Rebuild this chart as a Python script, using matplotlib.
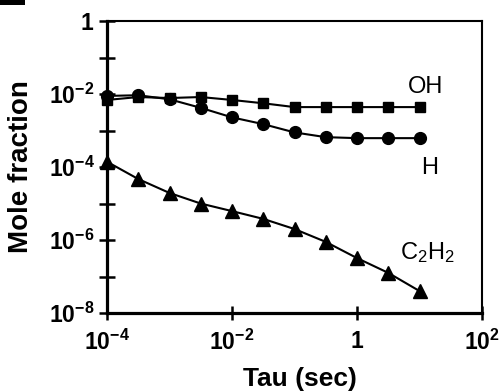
import matplotlib
matplotlib.use("Agg")
import matplotlib.pyplot as plt
from matplotlib.patches import Rectangle
from matplotlib.ticker import NullFormatter, NullLocator

plt.rcParams['font.family'] = ['Liberation Sans', 'DejaVu Sans']
plt.rcParams['mathtext.fontset'] = 'custom'
plt.rcParams['mathtext.rm'] = 'Liberation Sans:bold'
plt.rcParams['mathtext.it'] = 'Liberation Sans:bold'
plt.rcParams['mathtext.bf'] = 'Liberation Sans:bold'
plt.rcParams['mathtext.sf'] = 'Liberation Sans'

# residence time (s), half-decade steps
tau = [1e-4, 3.16e-4, 1e-3, 3.16e-3, 1e-2, 3.16e-2, 0.1, 0.316, 1, 3.16, 10]

oh = [6.9e-3, 8.3e-3, 7.8e-3, 8.3e-3, 6.9e-3, 5.6e-3, 4.4e-3, 4.4e-3, 4.4e-3, 4.4e-3, 4.4e-3]
h = [8.9e-3, 9.3e-3, 7.2e-3, 4.2e-3, 2.3e-3, 1.5e-3, 8.9e-4, 6.6e-4, 6.2e-4, 6.2e-4, 6.2e-4]
c2h2 = [1.4e-4, 4.7e-5, 1.95e-5, 1.0e-5, 6.2e-6, 3.8e-6, 2.0e-6, 8.9e-7, 3.2e-7, 1.26e-7, 4.0e-8]

xticks = [1e-4, 1e-2, 1, 1e2]
xticklabels = [r'$10^{-4}$', r'$10^{-2}$', r'$1$', r'$10^{2}$']
yticks = [1e-8, 1e-6, 1e-4, 1e-2, 1]
yticklabels = [r'$10^{-8}$', r'$10^{-6}$', r'$10^{-4}$', r'$10^{-2}$', r'$1$']
yminor = [1e-7, 1e-5, 1e-3, 1e-1]

fig = plt.figure(figsize=(5, 3.91), dpi=100)
ax = fig.add_axes([0.214, 0.1995, 0.75, 0.7465])

ax.plot(tau, oh, '-s', color='black', lw=1.5, ms=7, clip_on=False)
ax.plot(tau, h, '-o', color='black', lw=1.5, ms=8.5, clip_on=False)
ax.plot(tau, c2h2, '-^', color='black', lw=1.5, ms=9.5, clip_on=False)

ax.set_xscale('log')
ax.set_yscale('log')
ax.set_xlim(1e-4, 1e2)
ax.set_ylim(1e-8, 1)

ax.set_xticks(xticks)
ax.set_xticklabels(xticklabels, fontsize=16.5)
ax.set_yticks(yticks)
ax.set_yticklabels(yticklabels, fontsize=16.5)
ax.set_yticks(yminor, minor=True)
ax.yaxis.set_minor_formatter(NullFormatter())
ax.xaxis.set_minor_locator(NullLocator())
ax.tick_params(axis='y', which='both', direction='inout', length=12, width=1.8, pad=3)
ax.tick_params(axis='x', which='major', direction='inout', length=10, width=1.8, pad=7)

for side in ['left', 'bottom']:
    ax.spines[side].set_linewidth(2.3)
for side in ['top', 'right']:
    ax.spines[side].set_linewidth(1.5)

ax.set_xlabel('Tau (sec)', fontsize=19, fontweight='bold')
ax.set_ylabel('Mole fraction', fontsize=20, fontweight='bold')
ax.xaxis.set_label_coords(0.515, -0.185)
ax.yaxis.set_label_coords(-0.195, 0.5)

ax.text(6.5, 10**-1.81, 'OH', fontsize=17, ha='left', va='center')
ax.text(14.7, 10**-4.03, 'H', fontsize=17, ha='center', va='center')
ax.text(13.2, 10**-6.33, r'$\mathsf{C_2H_2}$', fontsize=17, ha='center', va='center')

# smudge at the top-left corner
fig.add_artist(Rectangle((0, 0.988), 0.05, 0.012, transform=fig.transFigure,
                         color='black', lw=0))

fig.savefig('out.png', dpi=100)
